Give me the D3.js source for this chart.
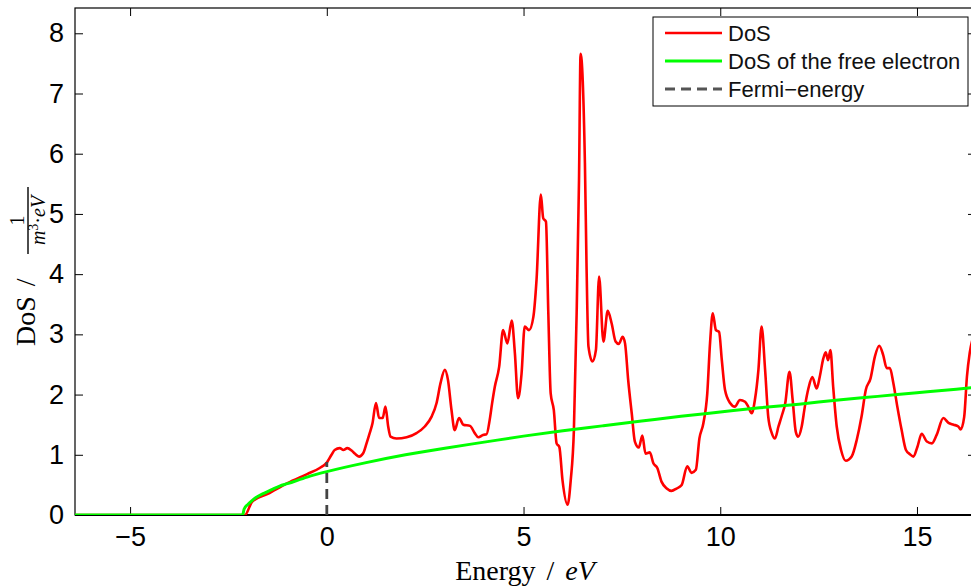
<!DOCTYPE html>
<html><head><meta charset="utf-8">
<script src="https://cdn.jsdelivr.net/npm/d3@7"></script>
<style>
html,body{margin:0;padding:0;background:#fff;}
svg{display:block;}
</style></head>
<body>
<svg id="chart" width="971" height="588"></svg>
<script>
// ---------------- data ----------------
const xTicks = [-5, 0, 5, 10, 15];
const yTicks = [0, 1, 2, 3, 4, 5, 6, 7, 8];
const legendLabels = ["DoS", "DoS of the free electron", "Fermi\u2212energy"];

const dosEnergy = [-6.4,-2.08,-1.9,-1.5,-1.0,-0.5,-0.18,0.0,0.12,0.2,0.33,0.42,0.52,0.63,0.71,0.82,0.92,1.01,1.09,1.16,1.25,1.33,1.42,1.49,1.56,1.62,1.77,2.03,2.28,2.49,2.66,2.79,2.89,3.0,3.08,3.17,3.25,3.36,3.47,3.64,3.76,3.85,3.97,4.06,4.14,4.2,4.27,4.38,4.48,4.59,4.70,4.78,4.86,4.95,5.03,5.14,5.25,5.33,5.44,5.50,5.57,5.63,5.69,5.77,5.84,5.91,5.99,6.12,6.20,6.28,6.35,6.41,6.45,6.56,6.60,6.65,6.75,6.84,6.92,7.03,7.14,7.24,7.34,7.42,7.52,7.58,7.66,7.75,7.83,7.93,8.02,8.10,8.21,8.30,8.40,8.51,8.64,8.76,8.89,9.02,9.16,9.27,9.38,9.47,9.57,9.67,9.74,9.81,9.89,9.97,10.04,10.12,10.25,10.37,10.50,10.63,10.71,10.80,10.88,10.97,11.05,11.14,11.22,11.31,11.39,11.48,11.56,11.65,11.76,11.84,11.92,11.98,12.07,12.15,12.24,12.34,12.45,12.53,12.62,12.68,12.74,12.80,12.87,12.96,13.07,13.19,13.34,13.47,13.59,13.70,13.82,13.93,14.04,14.14,14.23,14.31,14.40,14.50,14.61,14.72,14.82,14.91,15.01,15.12,15.25,15.38,15.50,15.67,15.80,15.93,16.05,16.11,16.20,16.27,16.34,16.45];
const dosValue  = [0,0,0.22,0.35,0.53,0.68,0.78,0.87,1.0,1.08,1.11,1.08,1.11,1.07,1.02,0.97,1.02,1.19,1.36,1.52,1.86,1.61,1.61,1.80,1.47,1.30,1.27,1.29,1.36,1.47,1.63,1.86,2.19,2.41,2.24,1.74,1.41,1.61,1.50,1.48,1.36,1.29,1.33,1.34,1.58,1.85,2.13,2.46,3.07,2.85,3.23,2.69,1.94,2.35,3.13,3.07,3.29,3.90,5.32,4.93,4.87,3.35,2.02,1.74,1.19,1.13,0.58,0.17,0.58,1.41,3.35,5.56,7.66,5.85,4.19,2.80,2.55,2.74,3.96,2.88,3.39,3.18,2.88,2.84,2.96,2.85,2.24,1.69,1.22,1.12,1.32,1.02,1.04,0.86,0.78,0.55,0.44,0.40,0.44,0.50,0.81,0.70,0.75,1.27,1.52,2.02,2.85,3.35,3.07,3.04,2.57,2.08,1.86,1.80,1.91,1.88,1.80,1.69,1.91,2.41,3.13,2.41,1.63,1.36,1.27,1.47,1.64,1.85,2.38,1.91,1.38,1.30,1.47,1.80,2.10,2.29,2.10,2.30,2.60,2.70,2.57,2.74,2.13,1.47,1.08,0.90,0.97,1.25,1.63,2.08,2.27,2.63,2.81,2.66,2.44,2.44,2.19,1.80,1.41,1.08,1.01,0.97,1.13,1.35,1.22,1.19,1.33,1.61,1.53,1.50,1.47,1.42,1.63,2.30,2.69,3.0];

const freeEnergy = [-6.4,-2.14,-2.1,-2.0,-1.9,-1.8,-1.6,-1.4,-1.2,-1.0,-0.5,0,1,2,3,4,5,6,7,8,9,10,11,12,13,14,15,16,16.5];
const freeValue  = [0,0,0.10,0.18,0.24,0.29,0.36,0.42,0.48,0.52,0.63,0.72,0.87,1.00,1.11,1.21,1.31,1.40,1.48,1.56,1.64,1.71,1.78,1.84,1.91,1.97,2.03,2.09,2.12];

const fermiEnergy = [0, 0];
const fermiValue  = [0, 0.88];

// ---------------- chart ----------------
const svg = d3.select("#chart");
const L = 75, R = 976, T = 8, B = 515;
const x = d3.scaleLinear().domain([-6.4, 16.5]).range([L, R]);
const y = d3.scaleLinear().domain([0, 8.42]).range([B, T]);

const tickFont = "'Liberation Sans', Arial, Helvetica, sans-serif";
const serif = "'Liberation Serif', 'DejaVu Serif', 'Times New Roman', serif";

svg.append("defs").append("clipPath").attr("id","clip")
  .append("rect").attr("x",L).attr("y",T-2).attr("width",R-L).attr("height",B-T+2);

// axes
const gx = svg.append("g").attr("transform",`translate(0,${B})`)
  .call(d3.axisBottom(x).tickValues(xTicks).tickSizeInner(-8).tickSizeOuter(0).tickPadding(12));
const gy = svg.append("g").attr("transform",`translate(${L},0)`)
  .call(d3.axisLeft(y).tickValues(yTicks).tickSizeInner(-8).tickSizeOuter(0).tickPadding(11));
const gt = svg.append("g").attr("transform",`translate(0,${T})`)
  .call(d3.axisTop(x).tickValues(xTicks).tickSizeInner(-8).tickSizeOuter(0).tickFormat(""));
const gr = svg.append("g").attr("transform",`translate(${R},0)`)
  .call(d3.axisRight(y).tickValues(yTicks).tickSizeInner(-8).tickSizeOuter(0).tickFormat(""));

[gx,gy,gt,gr].forEach(g=>{
  g.select(".domain").remove();
  g.selectAll(".tick line").attr("stroke","#000").attr("stroke-width",1);
  g.selectAll("text").attr("font-family",tickFont).attr("font-size",27).attr("fill","#000");
});
gx.selectAll("text").attr("dy","0.72em");

// frame
svg.append("rect").attr("x",L).attr("y",T).attr("width",R-L).attr("height",B-T)
  .attr("fill","none").attr("stroke","#000").attr("stroke-width",1.2);
svg.append("line").attr("x1",L).attr("x2",R).attr("y1",B).attr("y2",B)
  .attr("stroke","#000").attr("stroke-width",2);

// lines
const plot = svg.append("g").attr("clip-path","url(#clip)");
const line = d3.line().x(d=>x(d[0])).y(d=>y(d[1])).curve(d3.curveMonotoneX);
const dosData = dosEnergy.map((e,i)=>[e,dosValue[i]]);
const freeData = freeEnergy.map((e,i)=>[e,freeValue[i]]);
const fermiData = fermiEnergy.map((e,i)=>[e,fermiValue[i]]);

plot.append("path").datum(dosData).attr("d",line)
  .attr("fill","none").attr("stroke","#ff0000").attr("stroke-width",2.6).attr("stroke-linejoin","round");
plot.append("path").datum(freeData).attr("d",line)
  .attr("fill","none").attr("stroke","#00ff00").attr("stroke-width",3).attr("stroke-linejoin","round");
plot.append("path").datum(fermiData).attr("d",d3.line().x(d=>x(d[0])).y(d=>y(d[1])))
  .attr("fill","none").attr("stroke","#444").attr("stroke-width",2.8).attr("stroke-dasharray","10,6");

// legend
const lg = svg.append("g");
lg.append("rect").attr("x",653).attr("y",17).attr("width",315).attr("height",89)
  .attr("fill","#fff").attr("stroke","#000").attr("stroke-width",1);
const lstyles = [
  {c:"#ff0000", w:2.6, dash:null},
  {c:"#00ff00", w:3, dash:null},
  {c:"#555", w:2.8, dash:"10,6"}
];
legendLabels.forEach((t,i)=>{
  const yy = 33 + i*28;
  lg.append("line").attr("x1",665).attr("x2",722).attr("y1",yy).attr("y2",yy)
    .attr("stroke",lstyles[i].c).attr("stroke-width",lstyles[i].w)
    .attr("stroke-dasharray",lstyles[i].dash);
  lg.append("text").attr("x",728).attr("y",yy).attr("dy","0.36em")
    .attr("font-family",tickFont).attr("font-size",22).attr("fill","#111").text(t);
});

// x label
const xl = svg.append("text").attr("x",525).attr("y",580).attr("text-anchor","middle")
  .attr("font-family",serif).attr("font-size",28).attr("fill","#000");
xl.append("tspan").text("Energy");
xl.append("tspan").attr("dx",11).text("/");
xl.append("tspan").attr("dx",11).attr("font-style","italic").text("eV");

// y label (rotated)
const yg = svg.append("g").attr("transform","translate(28,0) rotate(-90)");
const yt = yg.append("text").attr("x",-346).attr("y",7)
  .attr("font-family",serif).attr("font-size",28).attr("fill","#000");
yt.append("tspan").text("DoS");
yt.append("tspan").attr("dx",10).text("/");
// fraction
yg.append("line").attr("x1",-254).attr("x2",-187).attr("y1",0).attr("y2",0)
  .attr("stroke","#000").attr("stroke-width",1.4);
yg.append("text").attr("x",-220.5).attr("y",-4).attr("text-anchor","middle")
  .attr("font-family",serif).attr("font-size",20).attr("fill","#000").text("1");
const den = yg.append("text").attr("x",-220.5).attr("y",17).attr("text-anchor","middle")
  .attr("font-family",serif).attr("font-size",20).attr("fill","#000");
den.append("tspan").attr("font-style","italic").text("m");
den.append("tspan").attr("font-size",14).attr("dy",-7).text("3");
den.append("tspan").attr("dy",7).text("\u00b7");
den.append("tspan").attr("font-style","italic").text("eV");
</script>
</body></html>
